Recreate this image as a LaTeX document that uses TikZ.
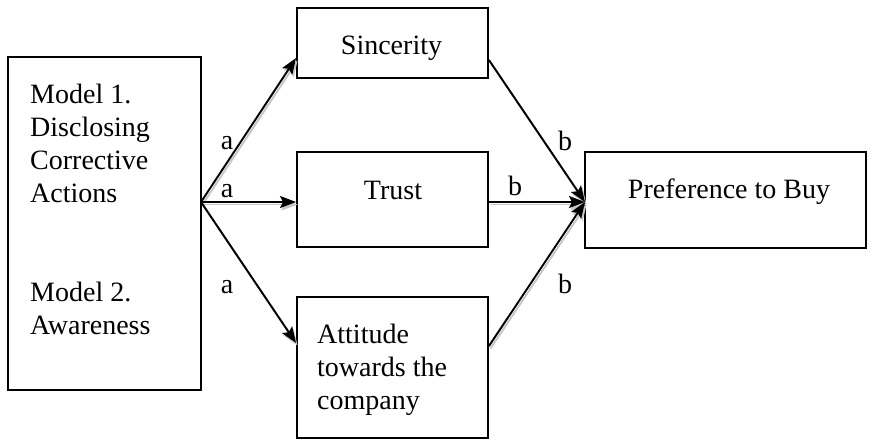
\documentclass[tikz,border=0pt]{standalone}
\usepackage{fontspec}
\setmainfont{Liberation Serif}
\usetikzlibrary{arrows.meta}

\tikzset{
  box/.style={draw, rectangle, line width=1.9pt, inner sep=0pt},
  txt/.style={font=\fontsize{28}{33}\selectfont, inner sep=0pt},
  arr/.style={-{Stealth[length=16pt,width=12pt,inset=3pt]}, line width=1.9pt,
    preaction={draw=black!22, line width=1.9pt, transform canvas={shift={(1.5pt,-2.5pt)}}}},
}

\begin{document}
\begin{tikzpicture}[x=1pt,y=-1pt]
 \useasboundingbox (0,0) rectangle (869,440);

 % boxes
 \node[box, minimum width=193pt, minimum height=333pt] (models) at (104.5,223.5) {};
 \node[box, minimum width=191pt, minimum height=70pt]  (sinc)   at (392.5,43) {};
 \node[box, minimum width=191pt, minimum height=95pt]  (trust)  at (392.5,199.5) {};
 \node[box, minimum width=191pt, minimum height=141pt] (att)    at (392.5,367.5) {};
 \node[box, minimum width=281pt, minimum height=96pt]  (pref)   at (725.5,200) {};

 % texts
 \node[txt, anchor=north west, align=left] (m1text) at (30,84) {Model 1.\\Disclosing\\Corrective\\Actions};
 \node[txt, anchor=north west, align=left] (m2text) at (30,282) {Model 2.\\Awareness};
 \node[txt, anchor=base] (sinctext)  at (391.5,54) {Sincerity};
 \node[txt, anchor=base] (trusttext) at (393,199) {Trust};
 \node[txt, anchor=north west, align=left] (atttext) at (317,324) {Attitude\\towards the\\company};
 \node[txt, anchor=base] (preftext)  at (729,198) {Preference to Buy};

 % paths
 \coordinate (hub)  at (201,202);
 \coordinate (conv) at (585,202);
 \draw[arr] (hub) -- ([yshift=-15pt]sinc.west);
 \draw[arr] (hub) -- (trust.west |- hub);
 \draw[arr] (hub) -- ([yshift=24.5pt]att.west);
 \draw[arr] ([yshift=-17pt]sinc.east) -- (conv);
 \draw[arr] (trust.east |- conv) -- (conv);
 \draw[arr] ([yshift=21.5pt]att.east) -- (conv);

 \node[txt, anchor=base] (a1) at (227,149) {a};
 \node[txt, anchor=base] (a2) at (227,197) {a};
 \node[txt, anchor=base] (a3) at (227,293) {a};
 \node[txt, anchor=base] (b1) at (565,150) {b};
 \node[txt, anchor=base] (b2) at (515,195) {b};
 \node[txt, anchor=base] (b3) at (565,293) {b};
\end{tikzpicture}
\end{document}
